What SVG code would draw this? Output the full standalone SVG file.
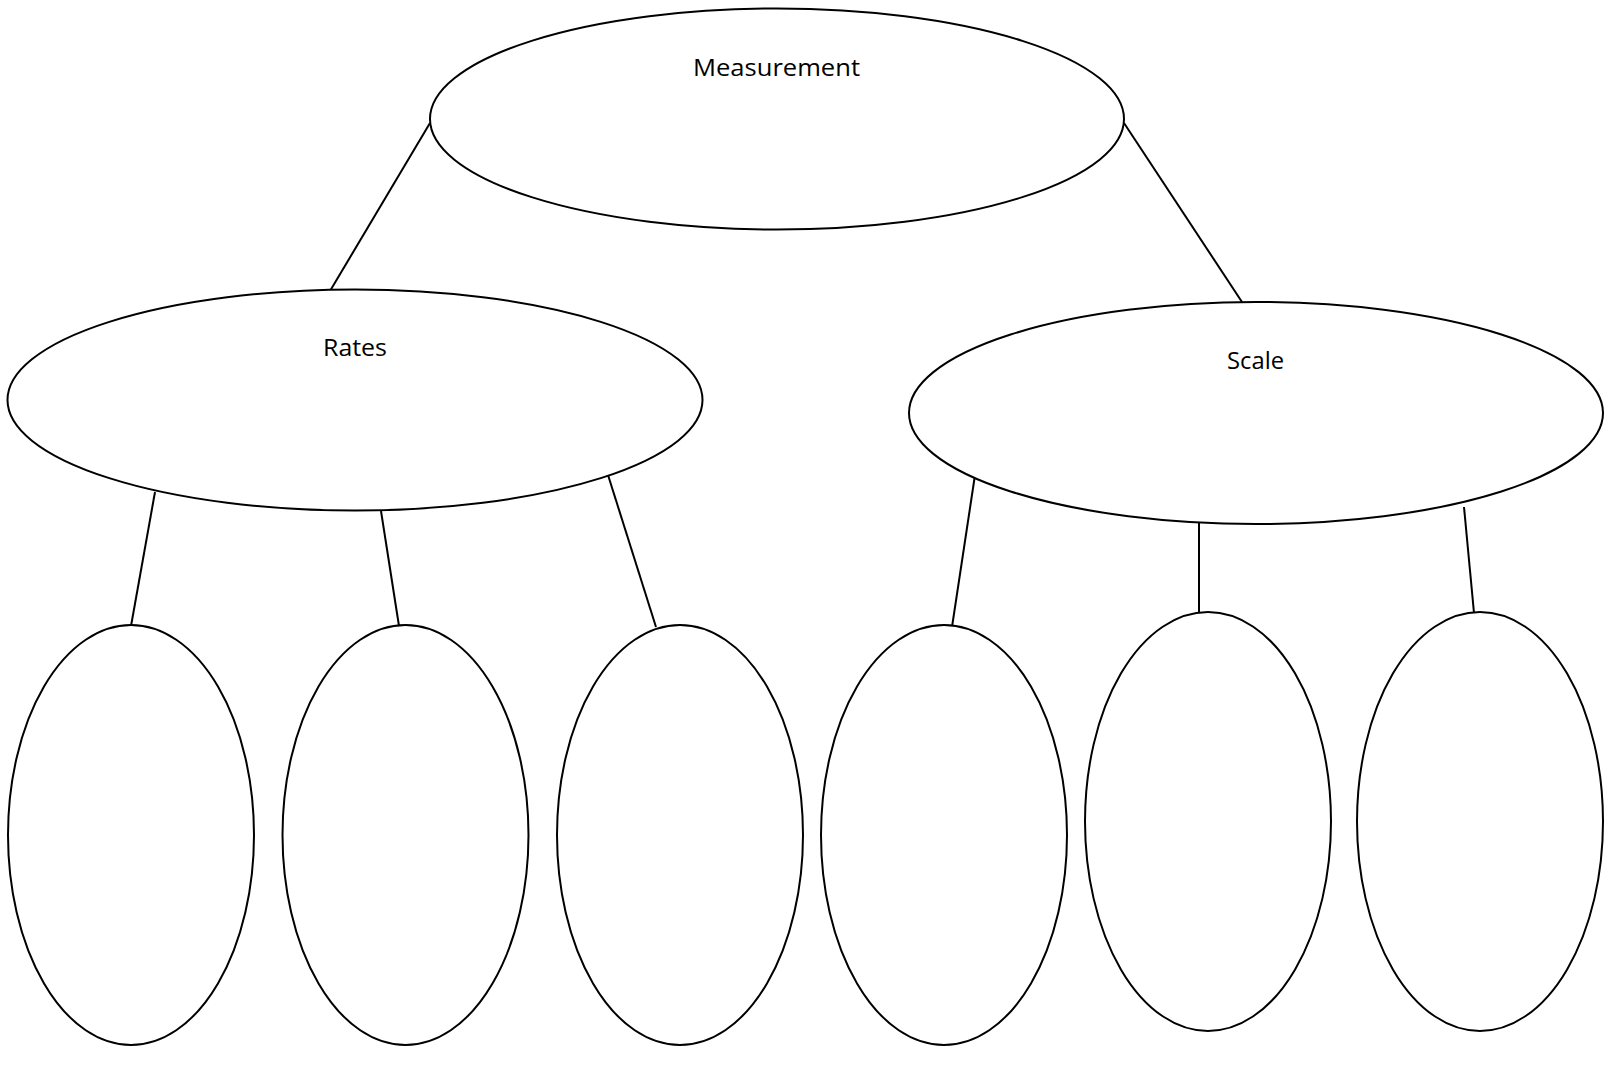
<svg xmlns="http://www.w3.org/2000/svg" width="1605" height="1078" viewBox="0 0 1605 1078">
<style>
.n{fill:#fff;stroke:#000;stroke-width:2}
.c line{stroke:#000;stroke-width:2}
.t{font-family:"Open Sans","Liberation Sans",sans-serif;font-size:24px;fill:#000;text-anchor:middle}
</style>
<rect width="1605" height="1078" fill="#fff"/>
<g class="c" id="connectors">
<line x1="430" y1="123" x2="330" y2="291"/>
<line x1="1124" y1="123" x2="1242" y2="302"/>
<line x1="155" y1="492" x2="131" y2="626"/>
<line x1="381" y1="511" x2="399" y2="626"/>
<line x1="608" y1="475" x2="656" y2="627"/>
<line x1="975" y1="475" x2="952" y2="627"/>
<line x1="1199" y1="523" x2="1199" y2="613"/>
<line x1="1464" y1="507" x2="1474" y2="613"/>
</g>
<g id="measurement"><ellipse class="n" cx="777" cy="119" rx="347" ry="110.5"/><text class="t" x="776.5" y="76" textLength="167" lengthAdjust="spacingAndGlyphs">Measurement</text></g>
<g id="rates"><ellipse class="n" cx="355" cy="400" rx="347.5" ry="110.5"/><text class="t" x="355" y="356" textLength="64" lengthAdjust="spacingAndGlyphs">Rates</text></g>
<g id="scale"><ellipse class="n" cx="1256" cy="413" rx="347" ry="111"/><text class="t" x="1255.5" y="369" textLength="57" lengthAdjust="spacingAndGlyphs">Scale</text></g>
<g id="leaf1"><ellipse class="n" cx="131" cy="835" rx="123" ry="210"/></g>
<g id="leaf2"><ellipse class="n" cx="405.5" cy="835" rx="123" ry="210"/></g>
<g id="leaf3"><ellipse class="n" cx="680" cy="835" rx="123" ry="210"/></g>
<g id="leaf4"><ellipse class="n" cx="944" cy="835" rx="123" ry="210"/></g>
<g id="leaf5"><ellipse class="n" cx="1208" cy="821.5" rx="123" ry="209.5"/></g>
<g id="leaf6"><ellipse class="n" cx="1480" cy="821.5" rx="123" ry="209.5"/></g>
</svg>
